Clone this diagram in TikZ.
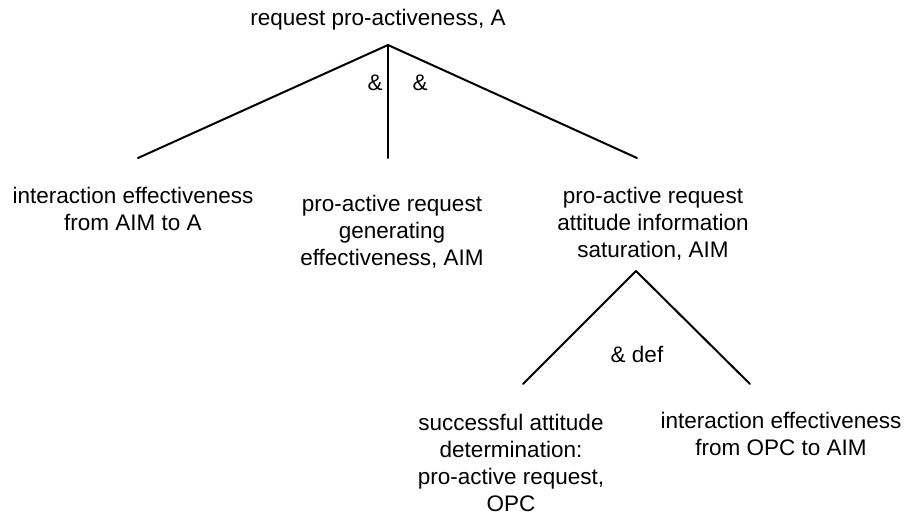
\documentclass[tikz,border=0pt]{standalone}
\usepackage{fontspec}
\setmainfont{Liberation Sans}
\begin{document}
\begin{tikzpicture}[x=1pt,y=-1pt,
  lbl/.style={font=\fontsize{22.5}{27}\selectfont, align=center, inner sep=0pt, anchor=base},
  branch/.style={line width=2pt, line cap=round}]
\useasboundingbox (0,0) rectangle (907,517);

% goal labels (anchored at the baseline of their last line)
\node[lbl] (top)   at (378,25)  {request pro-activeness, A};
\node[lbl] (left)  at (133,230) {interaction effectiveness\\from AIM to A};
\node[lbl] (mid)   at (392,265) {pro-active request\\generating\\effectiveness, AIM};
\node[lbl] (right) at (653,257) {pro-active request\\attitude information\\saturation, AIM};
\node[lbl] (bl)    at (511,511) {successful attitude\\determination:\\pro-active request,\\OPC};
\node[lbl] (br)    at (781,455) {interaction effectiveness\\from OPC to AIM};

% branch points
\coordinate (apexA) at (388,45);
\coordinate (endL)  at (138,158);
\coordinate (endM)  at (388,158);
\coordinate (endR)  at (637,158);
\coordinate (apexB) at (636,271);
\coordinate (endBL) at (523,384);
\coordinate (endBR) at (750,384);

% decomposition of the top goal
\draw[branch] (apexA) -- (endL);
\draw[branch] (apexA) -- (endM);
\draw[branch] (apexA) -- (endR);
\node[lbl] (and1) at (375,90) {\&};
\node[lbl] (and2) at (420,90) {\&};

% decomposition of the saturation goal
\draw[branch] (apexB) -- (endBL);
\draw[branch] (apexB) -- (endBR);
\node[lbl] (anddef) at (637,362) {\& def};
\end{tikzpicture}
\end{document}
